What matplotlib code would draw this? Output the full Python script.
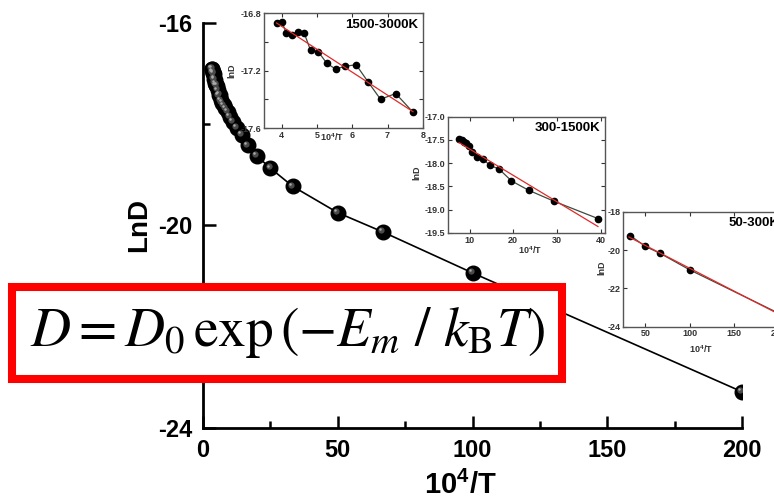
import numpy as np
import matplotlib
matplotlib.use("Agg")
import matplotlib.pyplot as plt
from matplotlib.patches import Rectangle
from matplotlib.transforms import offset_copy

plt.rcParams['font.family'] = ['Liberation Sans', 'DejaVu Sans']
plt.rcParams['mathtext.fontset'] = 'stix'
plt.rcParams['axes.unicode_minus'] = False

# main curve: lnD vs 10^4/T
inv_t = [3.33, 3.45, 3.57, 3.70, 3.85, 4.00, 4.17, 4.35, 4.55, 4.76, 5.00, 5.26,
         5.56, 5.88, 6.25, 6.67, 7.14, 7.69, 8.33, 9.09, 10.0, 11.1, 12.5, 14.3,
         16.7, 20.0, 25.0, 33.3, 50.0, 66.7, 100.0, 200.0]
ln_d = [-16.90, -16.91, -16.97, -16.99, -16.99, -17.01, -17.10, -17.12, -17.19,
        -17.23, -17.23, -17.24, -17.33, -17.43, -17.42, -17.53, -17.58, -17.63,
        -17.69, -17.76, -17.85, -17.95, -18.07, -18.21, -18.42, -18.63, -18.87,
        -19.23, -19.75, -20.13, -20.94, -23.29]

# 1500-3000K inset
x_hi = [3.87, 4.01, 4.13, 4.29, 4.47, 4.64, 4.82, 5.04, 5.28, 5.53, 5.80, 6.11,
        6.45, 6.80, 7.23, 7.72]
y_hi = [-16.87, -16.86, -16.94, -16.95, -16.93, -16.94, -17.06, -17.07, -17.15,
        -17.19, -17.17, -17.16, -17.28, -17.40, -17.36, -17.49]

# 300-1500K inset
x_mid = [7.65, 8.18, 8.71, 9.17, 9.77, 10.68, 11.67, 13.03, 14.62, 16.8, 19.6,
         23.5, 29.4, 39.4]
y_mid = [-17.48, -17.51, -17.54, -17.56, -17.62, -17.75, -17.86, -17.91, -18.04,
         -18.13, -18.38, -18.58, -18.82, -19.19]

# 50-300K inset
x_lo = [33.3, 50.0, 66.7, 100.0, 200.0]
y_lo = [-19.25, -19.81, -20.17, -21.03, -23.29]

XLAB = '10$^{\\mathregular{4}}$/T'


def bold_ticks(a):
    for lbl in a.get_xticklabels() + a.get_yticklabels():
        lbl.set_fontweight('bold')


fig = plt.figure(figsize=(7.74, 5.03), dpi=100)

ax = fig.add_axes([0.2623, 0.1497, 0.6964, 0.8046])
ax.plot(inv_t, ln_d, color='black', lw=1.2, zorder=2)
# shaded balls: dark body, grey glint, light highlight
ax.plot(inv_t, ln_d, 'o', ms=10.5, color='black', zorder=3)
tr = offset_copy(ax.transData, fig=fig, x=-1.3, y=1.3, units='points')
ax.plot(inv_t, ln_d, 'o', ms=4.5, color='#4a4a4a', mew=0, transform=tr, zorder=4)
tr2 = offset_copy(ax.transData, fig=fig, x=-1.9, y=1.9, units='points')
ax.plot(inv_t, ln_d, 'o', ms=1.8, color='#aaaaaa', mew=0, transform=tr2, zorder=5)

ax.set_xlim(0, 200)
ax.set_ylim(-24, -16)
ax.set_xticks([0, 50, 100, 150, 200])
ax.set_xticks([25, 75, 125, 175], minor=True)
ax.set_yticks([-24, -20, -16])
ax.set_yticks([-22, -18], minor=True)
ax.tick_params(which='both', direction='in', width=1.8, labelsize=17, pad=8)
ax.tick_params(which='major', length=9)
ax.tick_params(which='minor', length=5)
bold_ticks(ax)
for s in ['top', 'right']:
    ax.spines[s].set_visible(False)
for s in ['left', 'bottom']:
    ax.spines[s].set_linewidth(2)
ax.set_xlabel(XLAB, fontsize=21, fontweight='bold')
ax.xaxis.set_label_coords(0.477, -0.108)
ax.set_ylabel('LnD', fontsize=20, fontweight='bold')
ax.yaxis.set_label_coords(-0.095, 0.5)


def inset(rect, xs, ys, xlim, ylim, xticks, yticks, yminor, title, title_x, title_ha,
          xlab_pos, ylab_pos):
    a = fig.add_axes(rect)
    a.set_facecolor('white')
    a.plot(xs, ys, '-', color='#3d4a3d', lw=0.9)
    a.plot(xs, ys, 'o', ms=4.5, color='black')
    k, b = np.polyfit(xs, ys, 1)
    xf = np.array([xs[0] - 0.1 * (xs[1] - xs[0]), xs[-1]])
    a.plot(xf, k * xf + b, color='#e02a2a', lw=0.9)
    a.set_xlim(*xlim)
    a.set_ylim(*ylim)
    a.set_xticks(xticks)
    a.set_yticks(yticks)
    if yminor:
        a.set_yticks(yminor, minor=True)
    a.tick_params(which='both', direction='in', length=3, width=0.8, labelsize=6.5,
                  colors='#333333', pad=2, top=True, right=True)
    bold_ticks(a)
    for s in a.spines.values():
        s.set_color('#555555')
        s.set_linewidth(1)
    a.text(title_x, 0.90, title, transform=a.transAxes, ha=title_ha, va='center',
           fontsize=9.5, fontweight='bold')
    a.text(xlab_pos[0], xlab_pos[1], XLAB, transform=a.transAxes,
           ha='center', va='center', fontsize=6.5, fontweight='bold', color='#333333')
    a.text(ylab_pos[0], ylab_pos[1], 'lnD', transform=a.transAxes, rotation=90,
           ha='center', va='center', fontsize=6.5, fontweight='bold', color='#333333')
    return a


inset([0.341, 0.7455, 0.2054, 0.2286], x_hi, y_hi, (3.5, 8.0), (-17.6, -16.8),
      [4, 5, 6, 7, 8], [-17.6, -17.2, -16.8], [-17.4, -17.0], '1500-3000K', 0.97,
      'right', (0.43, -0.08), (-0.2, 0.5))
inset([0.5784, 0.5368, 0.2032, 0.2312], x_mid, y_mid, (5, 41), (-19.5, -17.0),
      [10, 20, 30, 40], [-19.5, -19.0, -18.5, -18.0, -17.5, -17.0], None,
      '300-1500K', 0.968, 'right', (0.523, -0.146), (-0.197, 0.52))
inset([0.805, 0.3505, 0.2063, 0.2286], x_lo, y_lo, (25, 205), (-24, -18),
      [50, 100, 150, 200], [-24, -22, -20, -18], None, '50-300K', 0.66, 'left',
      (0.49, -0.2), (-0.13, 0.51))

# equation box
fig.patches.append(Rectangle((0.0155, 0.2465), 0.7106, 0.1829, transform=fig.transFigure,
                             facecolor='white', edgecolor='#ff0000', lw=5.8, zorder=10))
fig.text(0.371, 0.338, r'$D = D_0\,\exp\left(-E_m\ /\ k_{\mathrm{B}}T\right)$',
         ha='center', va='center', fontsize=40, zorder=11)

fig.savefig('out.png', dpi=100)
